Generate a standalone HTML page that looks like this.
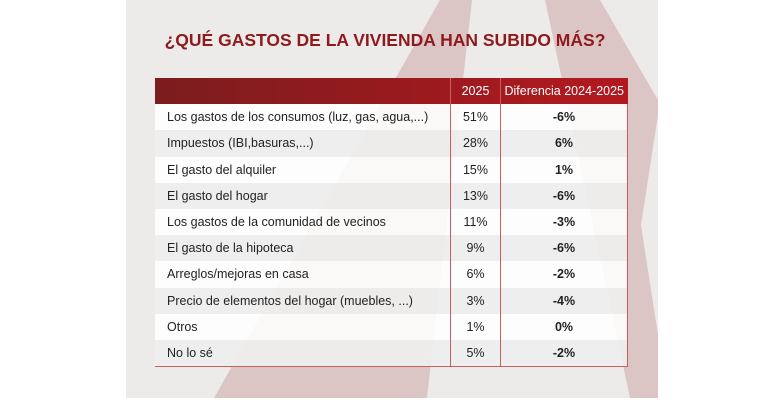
<!DOCTYPE html>
<html><head><meta charset="utf-8"><style>
body{margin:0;width:770px;height:400px;background:#fff;font-family:"Liberation Sans",sans-serif;position:relative;overflow:hidden}
#slide{position:absolute;left:126px;top:0;width:532px;height:398px;background:#ecebe9;overflow:hidden}
h1{position:absolute;left:0;top:30px;width:770px;margin:0;text-align:center;font-size:17.5px;color:#8f1a1d;font-weight:bold}
table{position:absolute;left:155px;top:78px;width:473px;border-collapse:collapse;font-size:12.5px;color:#222}
td,th{height:26.2px;padding:0;box-sizing:border-box}
th{color:#fff;font-weight:normal;font-size:12.5px}
thead tr{background:linear-gradient(90deg,#7b1c1e,#b3191f)}
td.l{padding-left:12px}
td.c{text-align:center;width:50px;border-left:1px solid #c9605e;border-right:1px solid #c9605e}
td.d{text-align:center;font-weight:bold;width:127px;border-right:1px solid #c9605e}
tbody tr:nth-child(odd){background:rgba(255,255,255,.88)}
tbody tr:nth-child(even){background:rgba(240,238,238,.9)}
tbody tr:last-child td{border-bottom:1px solid #c9605e}
</style></head><body>
<div id="slide">
<svg width="532" height="398">
<polygon points="314,0 346,0 301,398 88,398" fill="#dbc6c5"/>
<polygon points="419,0 474,0 532,100 532,398 504,398" fill="#dbc6c5"/>
<polygon points="532,115 532,335 515,225" fill="#ecebe9"/>
</svg>
</div>
<h1>¿QUÉ GASTOS DE LA VIVIENDA HAN SUBIDO MÁS?</h1>
<table>
<thead><tr><th></th><th style="border-left:1px solid #c9605e;border-right:1px solid #c9605e">2025</th><th>Diferencia 2024-2025</th></tr></thead>
<tbody id="tb"></tbody>
</table>
<script>
const categories=["Los gastos de los consumos (luz, gas, agua,...)","Impuestos (IBI,basuras,...)","El gasto del alquiler","El gasto del hogar","Los gastos de la comunidad de vecinos","El gasto de la hipoteca","Arreglos/mejoras en casa","Precio de elementos del hogar (muebles, ...)","Otros","No lo sé"];
const values2025=[51,28,15,13,11,9,6,3,1,5];
const diffs=[-6,6,1,-6,-3,-6,-2,-4,0,-2];
const tb=document.getElementById('tb');
categories.forEach((c,i)=>{
const tr=document.createElement('tr');


const a=document.createElement('td');a.className='l';a.textContent=c;


const b=document.createElement('td');b.className='c';b.textContent=values2025[i]+'%';


const d=document.createElement('td');d.className='d';d.textContent=diffs[i]+'%';


tr.append(a,b,d);tb.appendChild(tr);
});
</script>
</body></html>
